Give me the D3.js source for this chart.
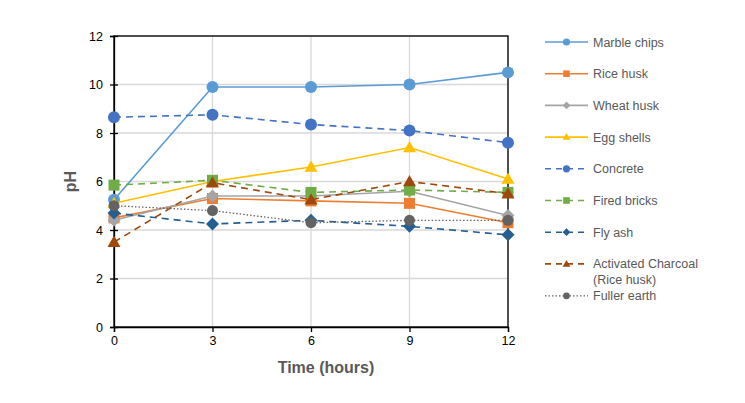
<!DOCTYPE html>
<html>
<head>
<meta charset="utf-8">
<script src="https://cdn.jsdelivr.net/npm/d3@7"></script>
<style>
  body { margin: 0; background: #fff; }
  text { font-family: "Liberation Sans", Arial, sans-serif; }
</style>
</head>
<body>
<div id="chart"></div>
<script>
// time points (hours)
const hours = [0, 3, 6, 9, 12];
const yTicks = [0, 2, 4, 6, 8, 10, 12];

// pH readings per adsorbent
const marbleChips = [5.25, 9.9, 9.9, 10.0, 10.5];
const riceHusk = [4.5, 5.3, 5.2, 5.1, 4.3];
const wheatHusk = [4.4, 5.4, 5.4, 5.6, 4.6];
const eggShells = [5.1, 6.0, 6.6, 7.4, 6.1];
const concrete = [8.65, 8.75, 8.35, 8.1, 7.6];
const firedBricks = [5.85, 6.05, 5.55, 5.65, 5.55];
const flyAsh = [4.7, 4.25, 4.4, 4.15, 3.8];
const activatedCharcoal = [3.5, 5.95, 5.25, 6.0, 5.5];
const fullerEarth = [5.0, 4.8, 4.3, 4.4, 4.4];

const series = [
    { name: ["Marble chips"], values: marbleChips, color: "#5B9BD5", dash: null, marker: "circle", size: 6 },
    { name: ["Rice husk"], values: riceHusk, color: "#ED7D31", dash: null, marker: "square", size: 5.5 },
    { name: ["Wheat husk"], values: wheatHusk, color: "#A5A5A5", dash: null, marker: "diamond", size: 6.5 },
    { name: ["Egg shells"], values: eggShells, color: "#FFC000", dash: null, marker: "triangle", size: 6.5 },
    { name: ["Concrete"], values: concrete, color: "#4472C4", dash: "7,5", marker: "circle", size: 6 },
    { name: ["Fired bricks"], values: firedBricks, color: "#70AD47", dash: "7,5", marker: "square", size: 5.5 },
    { name: ["Fly ash"], values: flyAsh, color: "#255E91", dash: "7,5", marker: "diamond", size: 6.5 },
    { name: ["Activated Charcoal", "(Rice husk)"], values: activatedCharcoal, color: "#9E480E", dash: "7,5", marker: "triangle", size: 6.5 },
    { name: ["Fuller earth"], values: fullerEarth, color: "#636363", dash: "1.5,2", marker: "circle", size: 5.5 }
];

const width = 745, height = 403;
const margin = { top: 36, left: 114, right: 237, bottom: 76 };
const innerW = width - margin.left - margin.right;
const innerH = height - margin.top - margin.bottom;

const svg = d3.select("#chart").append("svg")
    .attr("width", width)
    .attr("height", height);

const x = d3.scaleLinear().domain([0, 12]).range([margin.left, margin.left + innerW]);
const y = d3.scaleLinear().domain([0, 12]).range([margin.top + innerH, margin.top]);

// gridlines
svg.append("g").selectAll("line.hgrid")
    .data(yTicks.slice(1))
    .join("line")
    .attr("x1", x(0)).attr("x2", x(12))
    .attr("y1", d => y(d)).attr("y2", d => y(d))
    .attr("stroke", "#d9d9d9").attr("stroke-width", 1.3);

svg.append("g").selectAll("line.vgrid")
    .data(hours.slice(1))
    .join("line")
    .attr("x1", d => x(d)).attr("x2", d => x(d))
    .attr("y1", y(0)).attr("y2", y(12))
    .attr("stroke", "#d9d9d9").attr("stroke-width", 1.3);

// plot border
svg.append("rect")
    .attr("x", x(0)).attr("y", y(12))
    .attr("width", x(12) - x(0)).attr("height", y(0) - y(12))
    .attr("fill", "none").attr("stroke", "#000").attr("stroke-width", 1.3);

// axes
const xAxis = svg.append("g")
    .attr("transform", `translate(0,${y(0)})`)
    .call(d3.axisBottom(x).tickValues(hours).tickSize(5).tickPadding(4));
const yAxis = svg.append("g")
    .attr("transform", `translate(${x(0)},0)`)
    .call(d3.axisLeft(y).tickValues(yTicks).tickSize(4).tickPadding(7));

[xAxis, yAxis].forEach(g => {
    g.select(".domain").attr("stroke", "#000").attr("stroke-width", 1.3);
    g.selectAll(".tick line").attr("stroke", "#000").attr("stroke-width", 1.3);
    g.selectAll(".tick text").attr("fill", "#000").style("font-size", "12.5px")
        .style("font-family", "'Liberation Sans', Arial, sans-serif");
});
// y ticks cross the axis
yAxis.selectAll(".tick line").attr("x1", 4);

// axis titles
svg.append("text")
    .attr("x", 326).attr("y", 373)
    .attr("text-anchor", "middle")
    .attr("fill", "#595959")
    .style("font-size", "16px").style("font-weight", "bold")
    .text("Time (hours)");

svg.append("text")
    .attr("transform", `translate(76,${(y(0) + y(12)) / 2}) rotate(-90)`)
    .attr("text-anchor", "middle")
    .attr("fill", "#595959")
    .style("font-size", "16px").style("font-weight", "bold")
    .text("pH");

const symbolFor = { circle: d3.symbolCircle, square: d3.symbolSquare, diamond: d3.symbolSquare, triangle: d3.symbolTriangle };

function markerPath(s, scale) {
    const r = s.size * scale;
    let area;
    if (s.marker === "circle") area = Math.PI * r * r;
    else if (s.marker === "square") area = (2 * r) * (2 * r);
    else if (s.marker === "diamond") area = 2 * r * r; // square rotated 45deg, half-diagonal r
    else area = (2 * r) * (2 * r) * Math.sqrt(3) / 4;
    return d3.symbol().type(symbolFor[s.marker]).size(area)();
}

function markerTransform(s, px, py) {
    if (s.marker === "diamond") return `translate(${px},${py}) rotate(45)`;
    if (s.marker === "triangle") return `translate(${px},${py + 1})`;
    return `translate(${px},${py})`;
}

const line = d3.line().x((d, i) => x(hours[i])).y(d => y(d));

// lines and markers
series.forEach(s => {
    const g = svg.append("g");
    g.append("path")
        .datum(s.values)
        .attr("d", line)
        .attr("fill", "none")
        .attr("stroke", s.color)
        .attr("stroke-width", s.dash === "1.5,2" ? 1.3 : 1.6)
        .attr("stroke-dasharray", s.dash);
    g.selectAll("path.pt")
        .data(s.values)
        .join("path")
        .attr("class", "pt")
        .attr("transform", (d, i) => markerTransform(s, x(hours[i]), y(d)))
        .attr("d", markerPath(s, 1))
        .attr("fill", s.color);
});

// legend
const legend = svg.append("g").attr("transform", "translate(545,42)");
let ly = 0;
series.forEach((s, i) => {
    const row = legend.append("g").attr("transform", `translate(0,${ly})`);
    row.append("line")
        .attr("x1", 0).attr("x2", 43).attr("y1", 0).attr("y2", 0)
        .attr("stroke", s.color)
        .attr("stroke-width", s.dash === "1.5,2" ? 1.3 : 1.6)
        .attr("stroke-dasharray", s.dash ? (s.dash === "1.5,2" ? "1.5,2" : "6,5") : null);
    row.append("path")
        .attr("transform", markerTransform(s, 21.5, s.marker === "triangle" ? -0.5 : 0))
        .attr("d", markerPath(s, 0.6))
        .attr("fill", s.color);
    row.append("text")
        .attr("x", 48).attr("y", 0)
        .attr("fill", "#595959")
        .style("font-size", "12.5px")
        .selectAll("tspan")
        .data(s.name)
        .join("tspan")
        .attr("x", 48)
        .attr("dy", (d, j) => j === 0 ? "0.36em" : "16px")
        .text(d => d);
    ly += (i === 7) ? 32 : 31.7;
});
</script>
</body>
</html>
